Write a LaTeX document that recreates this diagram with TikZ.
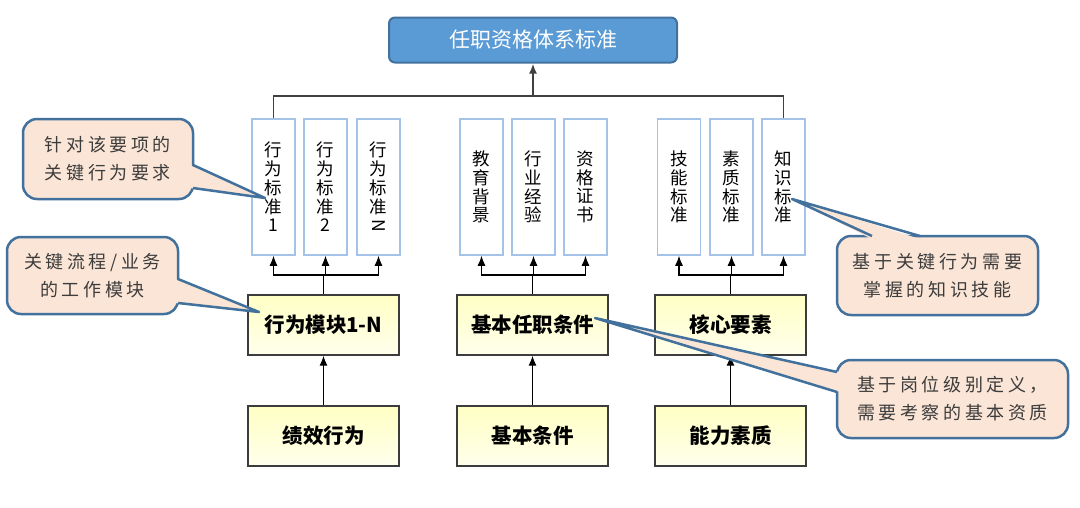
\documentclass[tikz,border=0pt]{standalone}
\usepackage{fontspec}
\usepackage{graphicx}
\usetikzlibrary{arrows.meta}
\newfontfamily\cjk{Noto Sans CJK SC}
\newfontfamily\cjkwide{Noto Sans CJK SC}[LetterSpace=20]
\definecolor{topfill}{RGB}{91,155,213}
\definecolor{topline}{RGB}{65,113,156}
\definecolor{colline}{RGB}{165,195,232}
\definecolor{modtop}{RGB}{255,255,196}
\definecolor{modbot}{RGB}{255,255,236}
\definecolor{modline}{RGB}{60,60,60}
\definecolor{callfill}{RGB}{251,229,214}
\definecolor{callline}{RGB}{65,113,156}
\definecolor{calltext}{RGB}{60,60,60}
\begin{document}
\begin{tikzpicture}[x=1pt, y=-1pt,
    topbox/.style={draw=topline, line width=2pt, fill=topfill, rounded corners=6pt,
      minimum width=288pt, minimum height=45pt, text=white, font=\cjk\fontsize{21}{24}\selectfont},
    colbox/.style={draw=colline, line width=1.5pt, fill=white, minimum width=43pt,
      minimum height=136pt, inner sep=0pt, align=center, font=\cjk\fontsize{17.5}{18.7}\selectfont},
    modbox/.style={draw=modline, line width=1.3pt, top color=modtop, bottom color=modbot,
      minimum width=151pt, minimum height=60pt, font=\cjk\bfseries\fontsize{20.5}{24}\selectfont},
    callbox/.style={draw=callline, line width=2.5pt, fill=callfill, rounded corners=14pt,
      align=center, text=calltext, font=\cjkwide\fontsize{18}{28}\selectfont},
    arr/.style={-{Latex[length=10pt,width=8pt]}, line width=1.2pt},
  ]
  \useasboundingbox[fill=white] (0,0) rectangle (1080,507);
  % top
  \node[topbox] (top) at (533,40) {任职资格体系标准};
  % standards
  \node[colbox] (b1) at (273.5,187) {行\\为\\标\\准\\1};
  \node[colbox] (b2) at (325.5,187) {行\\为\\标\\准\\2};
  \node[colbox] (b3) at (378.5,187) {行\\为\\标\\准\\\rotatebox[origin=c]{-90}{N}};
  \node[colbox] (b4) at (481.5,187) {教\\育\\背\\景};
  \node[colbox] (b5) at (533.5,187) {行\\业\\经\\验};
  \node[colbox] (b6) at (585.5,187) {资\\格\\证\\书};
  \node[colbox] (b7) at (679,187) {技\\能\\标\\准};
  \node[colbox] (b8) at (731.5,187) {素\\质\\标\\准};
  \node[colbox] (b9) at (783.5,187) {知\\识\\标\\准};
  % modules
  \node[modbox] (m1) at (323.5,325) {行为模块1-N};
  \node[modbox] (m2) at (532.5,325) {基本任职条件};
  \node[modbox] (m3) at (730.5,325) {核心要素};
  \node[modbox] (p1) at (323.5,436) {绩效行为};
  \node[modbox] (p2) at (532.5,436) {基本条件};
  \node[modbox] (p3) at (730.5,436) {能力素质};
  % links
  \coordinate (hub) at (533,96);
  \draw[line width=1.5pt, black!75] (b1.north) |- (hub) -| (b9.north);
  \draw[arr, line width=2pt, black!75] (hub) -- (top.south);
  \coordinate (j1) at (323.5,275);
  \coordinate (j2) at (532.5,275);
  \coordinate (j3) at (730.5,275);
  \draw[line width=1.2pt] (m1.north) -- (j1);
  \draw[line width=1.2pt] (m2.north) -- (j2);
  \draw[line width=1.2pt] (m3.north) -- (j3);
  \foreach \b in {b1,b2,b3} \draw[arr] (j1) -| (\b.south);
  \foreach \b in {b4,b5,b6} \draw[arr] (j2) -| (\b.south);
  \foreach \b in {b7,b8,b9} \draw[arr] (j3) -| (\b.south);
  \draw[arr] (p1.north) -- (m1.south);
  \draw[arr] (p2.north) -- (m2.south);
  \draw[arr] (p3.north) -- (m3.south);
  % callouts
  \node[callbox, minimum width=170pt, minimum height=80pt] (c1) at (108,159) {针对该要项的\\关键行为要求};
  \coordinate (t1) at (265,198);
  \fill[callfill] (190,165) -- (t1) -- (190,188) -- cycle;
  \draw[callline, line width=2.5pt, line join=round] (193,165) -- (t1) -- (193,188);
  \node[callbox, minimum width=171pt, minimum height=77pt] (c2) at (92.5,275.5) {关键流程/业务\\的工作模块};
  \coordinate (t2) at (259,312);
  \fill[callfill] (175,279) -- (t2) -- (175,303) -- cycle;
  \draw[callline, line width=2.5pt, line join=round] (178,279) -- (t2) -- (178,303);
  \node[callbox, minimum width=201pt, minimum height=79pt] (c3) at (937.5,275.5) {基于关键行为需要\\掌握的知识技能};
  \coordinate (t3) at (792,199);
  \fill[callfill] (872,239) -- (t3) -- (920,239) -- cycle;
  \draw[callline, line width=2.5pt, line join=round] (872,236) -- (t3) -- (920,236);
  \node[callbox, minimum width=231pt, minimum height=78pt] (c4) at (952.5,399) {基于岗位级别定义，\\需要考察的基本资质};
  \coordinate (t4) at (595,318);
  \fill[callfill] (840,372) -- (t4) -- (840,392) -- cycle;
  \draw[callline, line width=2.5pt, line join=round] (837,372) -- (t4) -- (837,392);
\end{tikzpicture}
\end{document}
